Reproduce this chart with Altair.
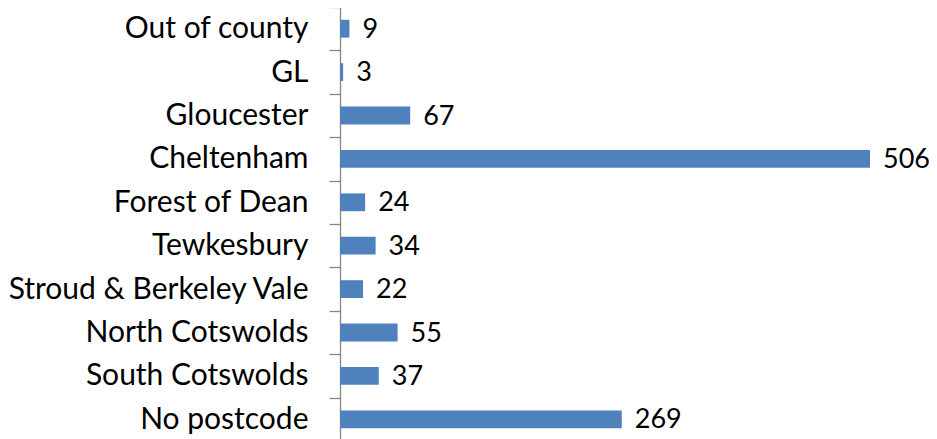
import altair as alt
import pandas as pd

categories = ["Out of county", "GL", "Gloucester", "Cheltenham", "Forest of Dean",
              "Tewkesbury", "Stroud & Berkeley Vale", "North Cotswolds",
              "South Cotswolds", "No postcode"]
values = [9, 3, 67, 506, 24, 34, 22, 55, 37, 269]

df = pd.DataFrame({"area": categories, "count": values})

FONT = "Lato"
y = alt.Y("area:N", sort=categories, title=None,
          scale=alt.Scale(paddingInner=0, paddingOuter=0),
          axis=alt.Axis(tickBand="extent", tickSize=11, labelPadding=21,
                        labelFontSize=30, labelFont=FONT, labelColor="black",
                        domainColor="#868686", tickColor="#868686",
                        domainWidth=1.3, tickWidth=1.3, labelLimit=400))
x = alt.X("count:Q", scale=alt.Scale(domain=[0, 506], nice=False), axis=None)

bars = alt.Chart(df).mark_bar(color="#4F81BD", height=alt.RelativeBandSize(0.41)).encode(y=y, x=x)
text = alt.Chart(df).mark_text(align="left", baseline="middle", dx=13, dy=1,
                                fontSize=27, font=FONT, color="black").encode(
    y=alt.Y("area:N", sort=categories), x="count:Q", text="count:Q")

chart = alt.layer(bars, text).properties(
    width=530, height=434, background="white",
    padding={"left": 332, "top": -1, "right": 59, "bottom": -2},
    autosize=alt.AutoSizeParams(type="none"),
).configure_view(stroke=None)

chart.save("out.html", embed_options={"renderer": "svg", "actions": False})
